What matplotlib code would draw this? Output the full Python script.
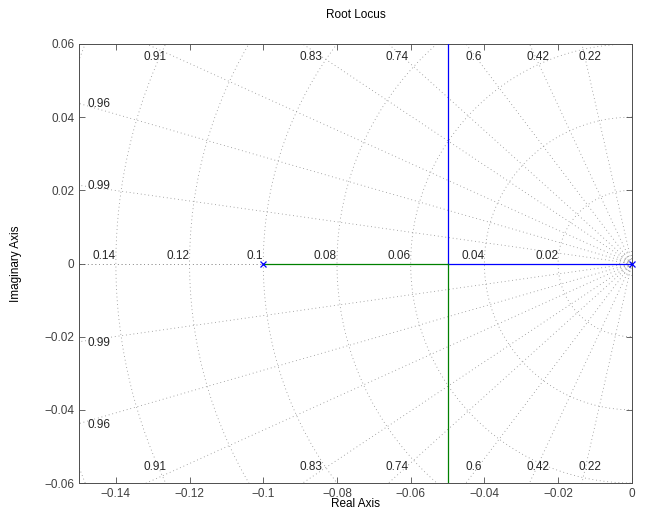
import numpy as np
import matplotlib.pyplot as plt

plt.rcParams['font.family'] = ['Liberation Sans', 'DejaVu Sans']

# open-loop poles and locus branches
poles = [0.0, -0.1]
breakaway = -0.05
# sgrid damping ratios and natural frequencies
zetas = [0.22, 0.42, 0.6, 0.74, 0.83, 0.91, 0.96, 0.99]
wn_labels = [0.02, 0.04, 0.06, 0.08, 0.1, 0.12, 0.14]
wn_extra = [0.0014, 0.0022, 0.0033, 0.16]

xmin, xmax = -0.15, 0.0
ymin, ymax = -0.06, 0.06
xticks = np.arange(-0.14, 0.001, 0.02)
yticks = np.arange(-0.06, 0.061, 0.02)

fig = plt.figure(figsize=(6.46, 5.14), dpi=100)
ax = fig.add_axes([0.1223, 0.0603, 0.8557, 0.8541])

grid_kw = dict(color='0.55', lw=0.6, ls=(0, (1, 3.5)), zorder=1)
lab_kw = dict(fontsize=8.5, color='0.15', zorder=2)

# constant-damping rays
for z in zetas + [1.0, 0.0]:
    s = np.sqrt(1 - z**2)
    ax.plot([0, -z], [0, s], **grid_kw)
    ax.plot([0, -z], [0, -s], **grid_kw)

# constant-frequency semicircles
th = np.linspace(np.pi / 2, 3 * np.pi / 2, 400)
for w in wn_labels + wn_extra:
    ax.plot(w * np.cos(th), w * np.sin(th), **grid_kw)

# damping labels on the frame
for z in zetas:
    s = np.sqrt(1 - z**2)
    xt = -ymax * z / s
    if xt > xmin:
        ax.text(xt + 0.0022, 0.0565, f'{z:g}', ha='center', va='center', **lab_kw)
        ax.text(xt + 0.0022, -0.0557, f'{z:g}', ha='center', va='center', **lab_kw)
    else:
        yt = -xmin * s / z
        ax.text(-0.1478, yt - 0.0002, f'{z:g}', ha='left', va='center', **lab_kw)
        ax.text(-0.1478, -yt - 0.0003, f'{z:g}', ha='left', va='center', **lab_kw)

# frequency labels along the real axis
for w in wn_labels:
    ax.text(-w, 0.0005, f'{w:g}', ha='right', va='bottom', **lab_kw)

# locus branches
ax.plot([poles[0], breakaway], [0, 0], color='blue', lw=0.9, zorder=3)
ax.plot([breakaway, breakaway], [0, 1], color='blue', lw=0.9, zorder=3)
ax.plot([poles[1], breakaway], [0, 0], color=(0, 0.5, 0), lw=0.9, zorder=3)
ax.plot([breakaway, breakaway], [0, -1], color=(0, 0.5, 0), lw=0.9, zorder=3)
ax.plot(poles, [0, 0], 'x', color='blue', ms=5, mew=0.9, zorder=4, clip_on=False)

ax.set_xlim(xmin, xmax)
ax.set_ylim(ymin, ymax)
ax.set_xticks(xticks)
ax.set_yticks(yticks)
ax.set_xticklabels([f'{t:g}'.replace('-', '\u2212') if abs(t) > 1e-9 else '0' for t in xticks])
ax.set_yticklabels([f'{t:g}'.replace('-', '\u2212') if abs(t) > 1e-9 else '0' for t in yticks])
ax.tick_params(direction='in', top=True, right=True, length=4, width=0.6,
               labelsize=8.5, colors='0.3', labelcolor='0.25')
for sp in ax.spines.values():
    sp.set_color('0.3')
    sp.set_linewidth(0.7)

ax.set_title('Root Locus', fontsize=8.5, pad=19)
ax.set_xlabel('Real Axis', fontsize=8.5, labelpad=-1)
ax.set_ylabel('Imaginary Axis', fontsize=8.5, labelpad=16)

fig.savefig('out.png', dpi=100)
